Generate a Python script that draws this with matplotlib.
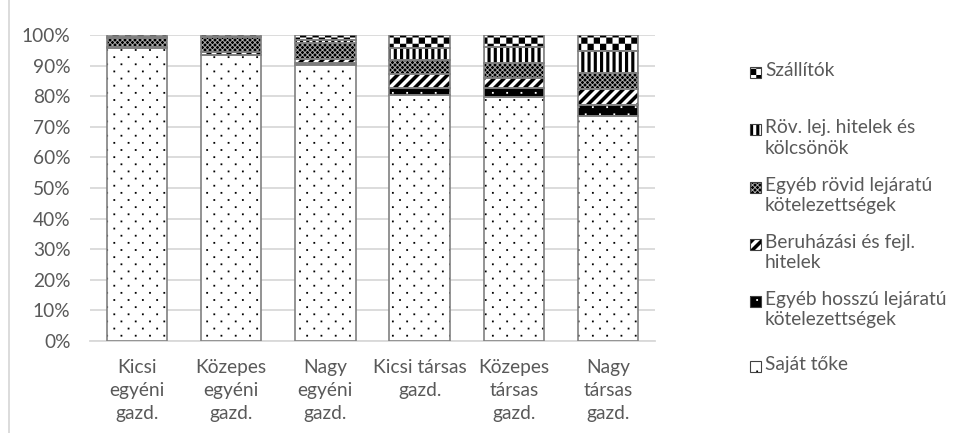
import numpy as np
import matplotlib
matplotlib.use("Agg")
import matplotlib.pyplot as plt
from matplotlib import hatch as mhatch
from matplotlib.path import Path
from matplotlib.patches import Rectangle
from matplotlib.lines import Line2D

# ---- data (percent of total liabilities) ----
categories = ["Kicsi\negyéni\ngazd.", "Közepes\negyéni\ngazd.", "Nagy\negyéni\ngazd.",
              "Kicsi társas\ngazd.", "Közepes\ntársas\ngazd.", "Nagy\ntársas\ngazd."]
series_names = ["Saját tőke",
                "Egyéb hosszú lejáratú\nkötelezettségek",
                "Beruházási és fejl.\nhitelek",
                "Egyéb rövid lejáratú\nkötelezettségek",
                "Röv. lej. hitelek és\nkölcsönök",
                "Szállítók"]
sajat_toke = [95.8, 93.4, 90.3, 80.4, 79.7, 73.5]
egyeb_hosszu = [0.1, 0.2, 0.5, 2.3, 3.0, 3.6]
beruhazasi = [0.2, 0.8, 1.5, 4.6, 3.4, 5.1]
egyeb_rovid = [3.0, 4.9, 5.2, 4.5, 4.9, 5.4]
rov_hitelek = [0.2, 0.2, 1.0, 3.8, 5.2, 7.2]
szallitok = [0.7, 0.5, 1.5, 4.4, 3.8, 5.2]
series_values = [sajat_toke, egyeb_hosszu, beruhazasi, egyeb_rovid, rov_hitelek, szallitok]
yticks = list(range(0, 101, 10))
ytick_labels = [f"{v}%" for v in yticks]


# ---- custom filled hatch patterns (unit tile = 1 inch) ----
class _PolyHatch(mhatch.HatchPatternBase):
    char = "?"

    def __init__(self, hatch, density):
        self.polys = self.make_polys() if self.char in hatch else []
        self.num_vertices = 5 * len(self.polys)

    def make_polys(self):
        return []

    def set_vertices_and_codes(self, vertices, codes):
        for i, poly in enumerate(self.polys):
            vertices[5 * i:5 * i + 4] = poly
            vertices[5 * i + 4] = poly[0]
            codes[5 * i] = Path.MOVETO
            codes[5 * i + 1:5 * i + 4] = Path.LINETO
            codes[5 * i + 4] = Path.CLOSEPOLY


class Checker(_PolyHatch):
    char = "O"

    def make_polys(self):
        n = 16
        out = []
        for i in range(n):
            for j in range(n):
                if (i + j) % 2 == 0:
                    x0, y0, d = i / n, j / n, 1 / n
                    out.append([(x0, y0), (x0 + d, y0), (x0 + d, y0 + d), (x0, y0 + d)])
        return out


class ThickVertical(_PolyHatch):
    char = "|"

    def make_polys(self):
        n, w = 16, 0.5
        out = []
        for k in range(n):
            x0 = k / n
            out.append([(x0, 0), (x0 + w / n, 0), (x0 + w / n, 1), (x0, 1)])
        return out


class Diamonds(_PolyHatch):
    char = "x"

    def make_polys(self):
        n, h = 20, 0.82
        out = []
        for i in range(-1, n + 1):
            for j in range(-1, n + 1):
                for (dx, dy) in ((0.0, 0.0), (0.5, 0.5)):
                    cx, cy, r = (i + dx) / n, (j + dy) / n, h / (2 * n)
                    out.append([(cx - r, cy), (cx, cy - r), (cx + r, cy), (cx, cy + r)])
        return out


class ThickDiagonal(_PolyHatch):
    char = "/"

    def make_polys(self):
        n, w = 10, 0.5
        out = []
        for k in range(-n - 1, n + 1):
            x0 = k / n
            out.append([(x0, 0), (x0 + w / n, 0), (x0 + w / n + 1, 1), (x0 + 1, 1)])
        return out


class SparseDots(_PolyHatch):
    char = "."

    def make_polys(self):
        r, s = 14, 0.009
        out = []
        for row in range(r + 1):
            y = row / r
            off = (row % 2) / r
            for c in range(-1, r // 2 + 2):
                x = c * 2 / r + off
                out.append([(x - s, y - s), (x + s, y - s), (x + s, y + s), (x - s, y + s)])
        return out


mhatch._hatch_types = [Checker, ThickVertical, Diamonds, ThickDiagonal, SparseDots]

plt.rcParams["hatch.linewidth"] = 0.01
plt.rcParams["font.family"] = ["Lato", "DejaVu Sans"]

TEXT = "#595959"
GRID = "#d9d9d9"
EDGE = "#808080"
FS = 13.8

# (facecolor, hatch colour, hatch)
styles = [("white", "black", "."),
          ("black", "white", "."),
          ("white", "black", "/"),
          ("white", "black", "x"),
          ("white", "black", "|"),
          ("white", "black", "O")]

W, H = 958, 433
fig = plt.figure(figsize=(W / 100, H / 100), dpi=100)
ax = fig.add_axes([90 / W, (H - 341) / H, 565 / W, 306 / H])

x = np.arange(len(categories))
bottom = np.zeros(len(categories))
for vals, (fc, hc, hp) in zip(series_values, styles):
    ax.bar(x, vals, width=0.64, bottom=bottom, color=fc, edgecolor=hc,
           linewidth=0, hatch=hp, zorder=3)
    ax.bar(x, vals, width=0.64, bottom=bottom, fill=False, edgecolor=EDGE,
           linewidth=1.2, zorder=4)
    bottom += np.array(vals)

ax.set_xlim(-0.5, len(categories) - 0.5)
ax.set_ylim(0, 100)
ax.set_yticks(yticks)
ax.set_yticklabels(ytick_labels)
ax.set_xticks(x)
ax.set_xticklabels(categories, linespacing=1.42)
ax.tick_params(axis="both", length=0, labelsize=FS, labelcolor=TEXT)
ax.tick_params(axis="y", pad=14)
ax.tick_params(axis="x", pad=13)
ax.grid(axis="y", color=GRID, linewidth=1.3, zorder=0)
for side in ("top", "right", "left"):
    ax.spines[side].set_visible(False)
ax.spines["bottom"].set_color(GRID)
ax.spines["bottom"].set_linewidth(1.3)

# legend, listed top to bottom from Szállítók down
legend_y = [73, 130, 188, 245, 302, 367]
for (name, (fc, hc, hp)), py in zip(list(zip(series_names, styles))[::-1], legend_y):
    box = ((750) / W, (H - py - 5) / H)
    fig.add_artist(Rectangle(box, 11 / W, 11 / H,
                             facecolor=fc, edgecolor=hc, linewidth=0, hatch=hp,
                             transform=fig.transFigure))
    fig.add_artist(Rectangle(box, 11 / W, 11 / H,
                             fill=False, edgecolor="#404040", linewidth=0.8,
                             transform=fig.transFigure))
    fig.text(765 / W, (H - py + 11) / H, name, color=TEXT, fontsize=FS,
             va="top", ha="left", linespacing=1.25,
             transform=fig.transFigure)

# chart-area frame on the left
fig.add_artist(Line2D([9 / W, 9 / W], [0, 1], color=GRID, linewidth=1.3,
                      transform=fig.transFigure))

fig.savefig("out.png", dpi=100)
